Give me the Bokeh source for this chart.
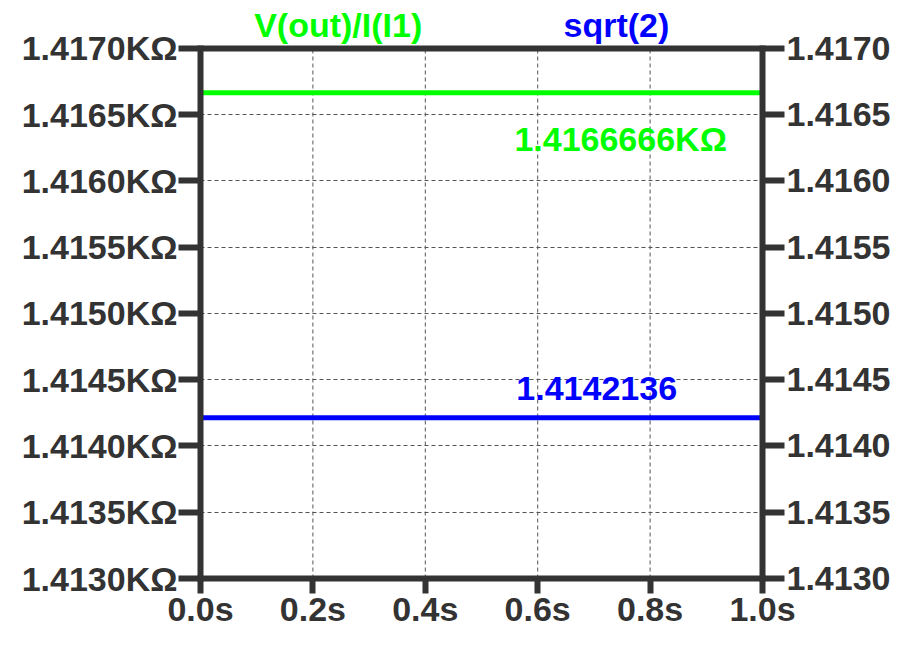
from bokeh.plotting import figure
from bokeh.models import Range1d, LinearAxis, FixedTicker, CustomJSTickFormatter, Label
from bokeh.embed import file_html
from bokeh.resources import INLINE

# data
time_s = [0.0, 1.0]
vout_over_i = [1.4166666, 1.4166666]
sqrt2 = [1.4142136, 1.4142136]
x_ticks = [0.0, 0.2, 0.4, 0.6, 0.8, 1.0]
y_ticks = [1.4130, 1.4135, 1.4140, 1.4145, 1.4150, 1.4155, 1.4160, 1.4165, 1.4170]
trace_names = ["V(out)/I(I1)", "sqrt(2)"]
cursor_labels = ["1.4166666KΩ", "1.4142136"]

GREEN = "#00ff00"
BLUE = "#0000ff"
DARK = "#333333"
FONT = "Liberation Sans"

Y0, Y1 = y_ticks[0], y_ticks[-1]
# extra headroom above the plot box for the trace names
Y_TOP = Y1 + 0.000332

p = figure(width=893, height=630, output_backend="svg", toolbar_location=None,
           x_range=Range1d(0.0, 1.0), y_range=Range1d(Y0, Y_TOP),
           min_border_left=200, min_border_right=129, min_border_top=4, min_border_bottom=40,
           x_axis_location="below", y_axis_location="left")

p.background_fill_color = "white"
p.border_fill_color = "white"
p.outline_line_color = None

# grid
p.xgrid.visible = False
p.ygrid.ticker = FixedTicker(ticks=y_ticks[1:-1])
p.ygrid.grid_line_color = "#555555"
p.ygrid.grid_line_width = 1
p.ygrid.grid_line_dash = "4 3"
p.segment(x0=x_ticks[1:-1], y0=[Y0] * 4, x1=x_ticks[1:-1], y1=[Y1] * 4,
          line_color="#555555", line_width=1, line_dash="4 3")

def style_axis(ax):
    ax.axis_line_color = DARK
    ax.axis_line_width = 6
    ax.axis_line_cap = "square"
    ax.major_tick_line_color = DARK
    ax.major_tick_line_width = 6
    ax.major_tick_in = 0
    ax.major_tick_out = 22
    ax.minor_tick_line_color = None
    ax.major_label_text_font = FONT
    ax.major_label_text_font_style = "bold"
    ax.major_label_text_font_size = "34px"
    ax.major_label_text_color = DARK

xa = p.xaxis[0]
style_axis(xa)
xa.ticker = FixedTicker(ticks=x_ticks)
xa.formatter = CustomJSTickFormatter(code="return tick.toFixed(1) + 's';")
xa.major_tick_out = 15
xa.major_label_standoff = -4

ya = p.yaxis[0]
style_axis(ya)
ya.bounds = (Y0, Y1)
ya.ticker = FixedTicker(ticks=y_ticks)
ya.formatter = CustomJSTickFormatter(code="return tick.toFixed(4) + 'KΩ';")
ya.major_label_standoff = 1

ra = LinearAxis(ticker=FixedTicker(ticks=y_ticks), bounds=(Y0, Y1),
                formatter=CustomJSTickFormatter(code="return tick.toFixed(4);"))
style_axis(ra)
ra.major_label_standoff = 2
p.add_layout(ra, "right")

# top edge of the plot box
p.line([0.0, 1.0], [Y1, Y1], line_color=DARK, line_width=6)

# traces
p.line(time_s, vout_over_i, line_color=GREEN, line_width=5)
p.line(time_s, sqrt2, line_color=BLUE, line_width=5)

def text_label(x, y, text, color, align):
    p.add_layout(Label(x=x, y=y, text=text, text_color=color,
                       text_font=FONT, text_font_style="bold", text_font_size="34px",
                       text_align=align, text_baseline="middle"))

# trace names above plot
text_label(0.245, Y1 + 0.00018, trace_names[0], GREEN, "center")
text_label(0.74, Y1 + 0.00018, trace_names[1], BLUE, "center")

# cursor value labels
text_label(0.5585, 1.416316, cursor_labels[0], GREEN, "left")
text_label(0.562, 1.414435, cursor_labels[1], BLUE, "left")

open("out.html", "w").write(file_html(p, INLINE))
